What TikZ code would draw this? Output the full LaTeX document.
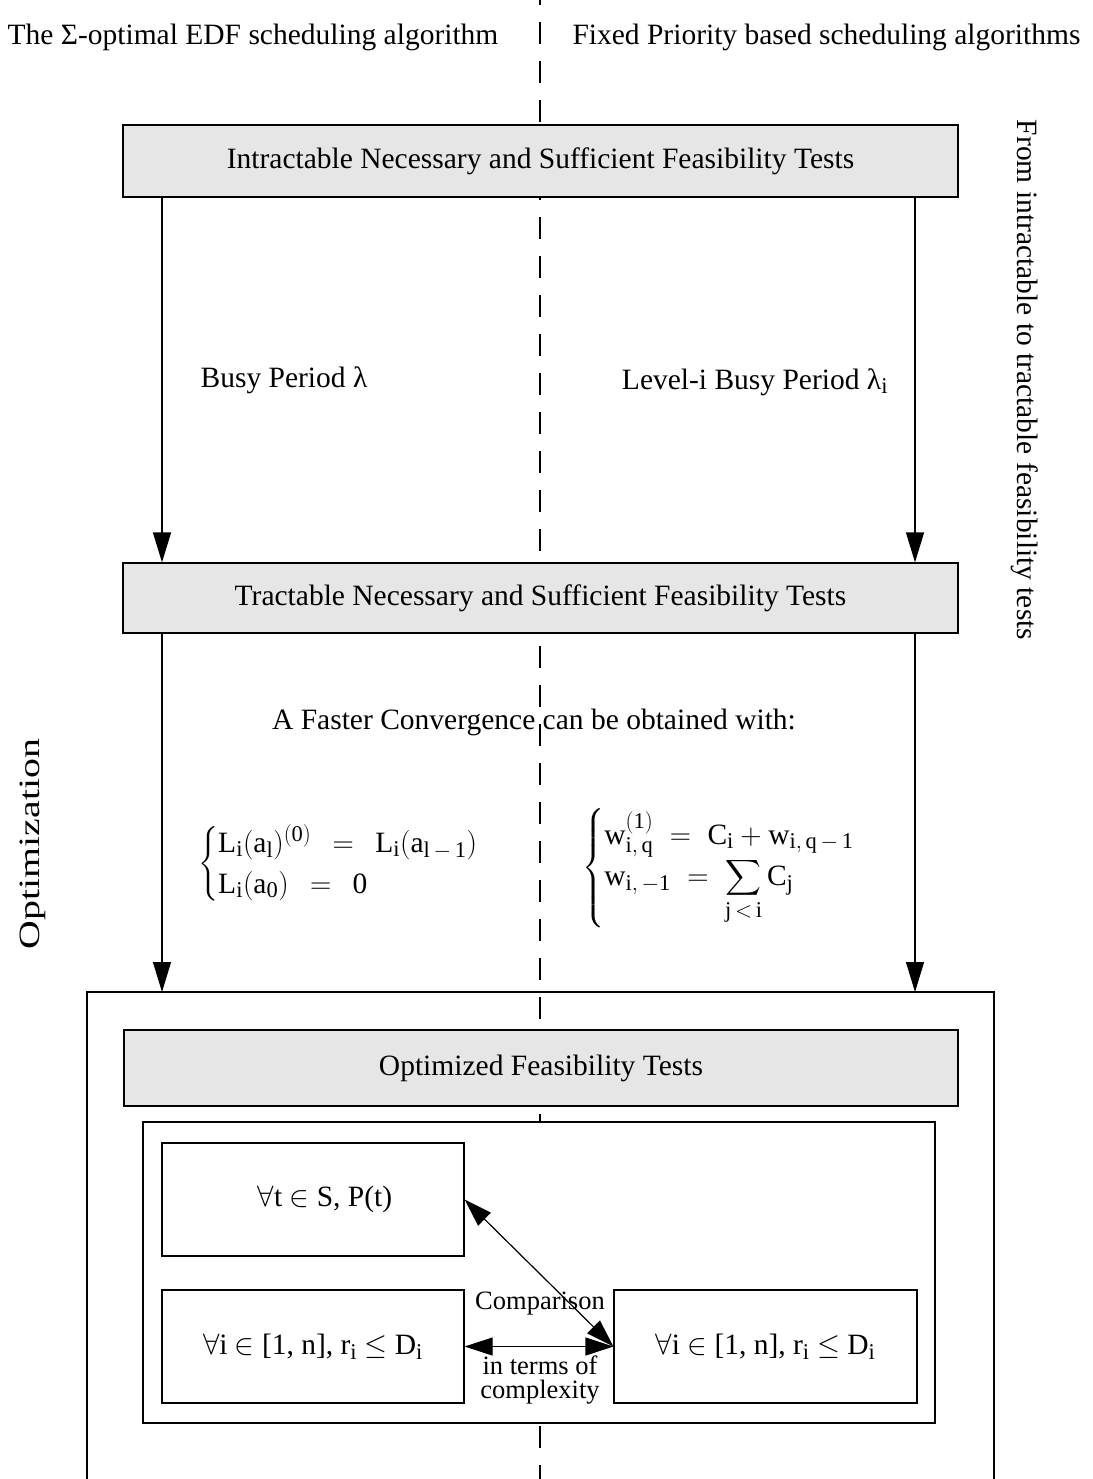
\RequirePackage{fix-cm}
\documentclass[tikz,border=0pt]{standalone}
\usepackage{amsmath}
\usepackage{graphicx}
\usepackage{fontspec}
\setmainfont{Liberation Serif}
\usetikzlibrary{arrows.meta,calc}
\definecolor{boxgray}{RGB}{230,230,230}
\DeclareMathSizes{29.5}{29.5}{22.5}{17}
\DeclareMathSizes{26.5}{26.5}{20}{15}
\begin{document}
\begin{tikzpicture}[x=1pt,y=-1pt,
  every node/.style={font=\fontsize{29.5}{35}\selectfont, inner sep=0pt},
  boxline/.style={line width=1.2pt},
  graybox/.style={draw, line width=1.2pt, fill=boxgray, minimum width=835pt, minimum height=72pt},
  whitebox/.style={draw, line width=1.2pt, fill=white, minimum width=302pt, minimum height=113pt},
  smalltext/.style={font=\fontsize{26.5}{24}\selectfont},
  arr/.style={line width=1.2pt, -{Triangle[length=30pt,width=18pt]}},
  arrtwo/.style={line width=1.2pt, {Triangle[length=28pt,width=18pt]}-{Triangle[length=28pt,width=18pt]}},
  sepline/.style={line width=1.2pt, dash pattern=on 22pt off 17pt, dash phase=17pt}]
\useasboundingbox (0,0) rectangle (1092,1479);
\draw[sepline] (540,0) -- (540,1479);

\node (tl) at (253,37) {The Σ-optimal EDF scheduling algorithm};
\node (tr) at (826.5,37) {Fixed Priority based scheduling algorithms};

\node[graybox] (b1) at (540.5,161) {Intractable Necessary and Sufficient Feasibility Tests};
\node[graybox, minimum height=70pt] (b2) at (540.5,598) {Tractable Necessary and Sufficient Feasibility Tests};

\node (bp) at (284,380) {Busy Period λ};
\node (lb) at (755,382) {Level-i Busy Period λ$_\mathrm{i}$};
\node (fc) at (534,722) {A Faster Convergence can be obtained with:};

\node[anchor=west] (fl) at (198,864) {$\left\{\begin{array}{@{}l@{}}
  \mathrm{L_i(a_l)^{(0)}\;\,=\;\,L_i(a_{l\,-\,1})}\\[6pt]
  \mathrm{L_i(a_0)\;\,=\;\,0}
  \end{array}\right.$};
\node[anchor=west] (fr) at (582,868) {$\left\{\begin{array}{@{}l@{}}
  \mathrm{w_{i,\,q}^{(1)}\;=\;C_i+w_{i,\,q\,-\,1}}\\[4pt]
  \mathrm{w_{i,\,-1}\;=\;\displaystyle\sum_{j\,<\,i}C_j}
  \end{array}\right.$};

\node[rotate=90] (opt) at (33,844) {\scalebox{1.35}[1]{Optimization}};
\node[rotate=-90] (ft) at (1025,380) {From intractable to tractable feasibility tests};

\coordinate (xl) at (162,0);
\coordinate (xr) at (915,0);
\coordinate (bigtl) at (87,992);
\coordinate (bigtr) at (994,992);
\coordinate (bigbl) at (87,1479);
\coordinate (bigbr) at (994,1479);
\draw[boxline] (bigbl) -- (bigtl) -- (bigtr) -- (bigbr);

\draw[arr] (b1.south -| xl) -- (b2.north -| xl);
\draw[arr] (b1.south -| xr) -- (b2.north -| xr);
\draw[arr] (b2.south -| xl) -- (bigtl -| xl);
\draw[arr] (b2.south -| xr) -- (bigtl -| xr);

\node[graybox, minimum width=834pt, minimum height=76pt] (b3) at (541,1068) {Optimized Feasibility Tests};
\node[draw, line width=1.2pt, fill=white, minimum width=792pt, minimum height=301pt] (inner) at (539,1272.5) {};

\node[whitebox] (t) at (313,1199.5) {\hspace*{24pt}$\forall$t $\in$ S, P(t)};
\node[whitebox] (l) at (313,1346.5) {$\forall$i $\in$ [1, n], r$_\mathrm{i}$ $\leq$ D$_\mathrm{i}$};
\node[whitebox, minimum width=303pt] (r) at (765.5,1346.5) {$\forall$i $\in$ [1, n], r$_\mathrm{i}$ $\leq$ D$_\mathrm{i}$};

\draw[arrtwo] (t.east) -- (r.west);
\draw[arrtwo] (l.east) -- (r.west);

\node[smalltext] (cmp) at (540,1304) {Comparison};
\node[smalltext, align=center] (cx) at (540,1380) {in terms of\\complexity};
\end{tikzpicture}
\end{document}
